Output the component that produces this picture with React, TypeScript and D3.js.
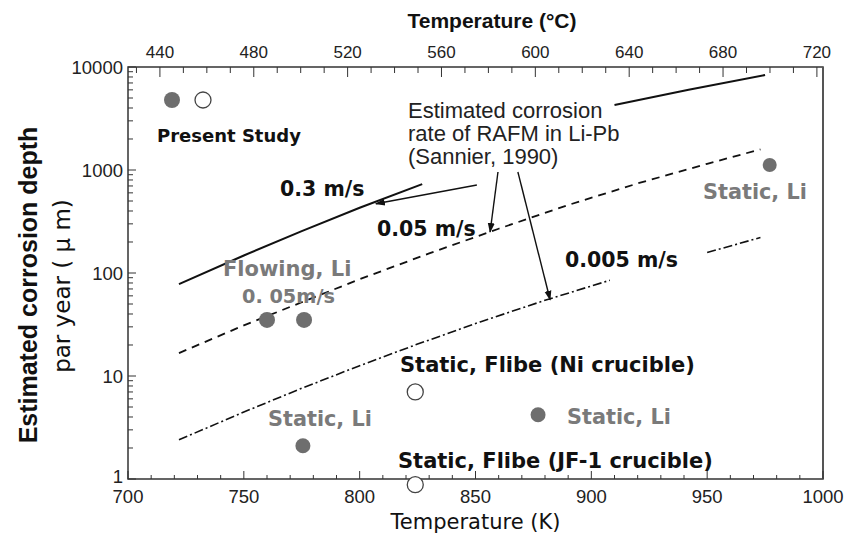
import React from "react";
import * as d3 from "d3";

// axes
const kelvinMajor = [700, 750, 800, 850, 900, 950, 1000];
const celsiusMajor = [440, 480, 520, 560, 600, 640, 680, 720];
const depthMajor = [1, 10, 100, 1000, 10000];

// Sannier (1990) estimated rates, [K, um/yr]; null = break in the line
const rate03 = [[722, 78], [750, 148], [775, 255], [800, 430], [827, 730], null, [910, 4280], [942, 6000], [975, 8360]];
const rate005 = [[722, 16.7], [750, 31], [775, 52], [800, 87], [830, 155], [860, 269], [890, 457], [920, 741], [950, 1148], [973, 1585]];
const rate0005 = [[722, 2.4], [750, 4.47], [775, 7.6], [800, 12.6], [825, 20.4], [852, 33.5], [880, 54.3], [908, 85], null, [950, 158], [973, 221]];

// measured points
const flowingLi = [[760, 35], [776, 35]];
const staticLi = [[775.5, 2.1], [877, 4.2], [977, 1120]];
const staticFlibe = [[824, 7.0], [824, 0.88]];

// arrows from the annotation text, [from, to]
const arrows = [
  [[850.6, 715], [807, 470]],
  [[859.7, 957], [856.3, 250]],
  [[868.3, 957], [882.2, 55]],
];

const W = 856;
const H = 536;
const L = 128, R = 823, T = 67, B = 479;

const x = d3.scaleLinear().domain([700, 1000]).range([L, R]);
const xC = d3.scaleLinear().domain([426.4, 722.6]).range([L, R]);
const y = d3.scaleLog().domain([1, 10000]).range([B, T]);

const line = d3
  .line<any>()
  .defined((d) => d !== null)
  .x((d) => x(d[0]))
  .y((d) => y(d[1]));

const sans = "'Liberation Sans', Arial, sans-serif";
const dv = "'DejaVu Sans', sans-serif";
const grey = "#7a7a7a";
const dot = "#6e6e6e";

export default function App() {
  const kMinor = d3.range(700, 1001, 10);
  const cMinor = d3.range(430, 721, 10);
  const yMinor: number[] = [];
  depthMajor.slice(0, -1).forEach((d) => {
    for (let i = 2; i <= 9; i++) yMinor.push(d * i);
  });

  return (
    <svg
      width={W}
      height={H}
      style={{ position: "fixed", left: 0, top: 0, background: "#fff" }}
    >
      <defs>
        <marker
          id="ah"
          viewBox="0 0 10 10"
          refX="9"
          refY="5"
          markerWidth="10"
          markerHeight="10"
          markerUnits="userSpaceOnUse"
          orient="auto"
        >
          <path d="M0,1.5L10,5L0,8.5z" fill="#111" />
        </marker>
      </defs>

      {/* frame */}
      <path
        d={`M${L},${T}H${R}V${B}H${L}Z`}
        fill="none"
        stroke="#333"
        strokeWidth={1.5}
      />
      <line x1={R} x2={R} y1={T} y2={B} stroke="#555" strokeWidth={2} />

      {/* bottom axis */}
      {kMinor.map((k) => (
        <line
          key={"kb" + k}
          x1={x(k)}
          x2={x(k)}
          y1={B}
          y2={B - (k % 50 === 0 ? 8 : 4)}
          stroke="#333"
        />
      ))}
      {kelvinMajor.map((k) => (
        <text
          key={"kl" + k}
          x={x(k)}
          y={503}
          textAnchor="middle"
          fontFamily={sans}
          fontSize={18.5}
          fill="#222"
        >
          {k}
        </text>
      ))}
      <text
        x={(L + R) / 2}
        y={529}
        textAnchor="middle"
        fontFamily={dv}
        fontSize={21}
        fill="#111"
      >
        Temperature (K)
      </text>

      {/* top axis */}
      {cMinor.map((c) => (
        <line
          key={"ct" + c}
          x1={xC(c)}
          x2={xC(c)}
          y1={T}
          y2={T + (c % 40 === 0 ? 10 : 6)}
          stroke="#333"
        />
      ))}
      {celsiusMajor.map((c) => (
        <text
          key={"cl" + c}
          x={xC(c)}
          y={58}
          textAnchor="middle"
          fontFamily={sans}
          fontSize={17}
          fill="#222"
        >
          {c}
        </text>
      ))}
      <text
        x={492}
        y={28}
        textAnchor="middle"
        fontFamily={sans}
        fontWeight="bold"
        fontSize={21}
        fill="#111"
      >
        Temperature (°C)
      </text>

      {/* left axis */}
      {yMinor.map((v) => (
        <line key={"ym" + v} x1={L} x2={L + 5} y1={y(v)} y2={y(v)} stroke="#333" />
      ))}
      {depthMajor.map((v) => (
        <g key={"yl" + v}>
          <line x1={L} x2={L + 8} y1={y(v)} y2={y(v)} stroke="#333" />
          <text
            x={123}
            y={y(v) + (v === 1 ? 4 : 6.5)}
            textAnchor="end"
            fontFamily={sans}
            fontSize={18.5}
            fill="#222"
          >
            {v}
          </text>
        </g>
      ))}
      <text
        transform="translate(37,285) rotate(-90)"
        textAnchor="middle"
        fontFamily={sans}
        fontWeight="bold"
        fontSize={25}
        fill="#111"
      >
        Estimated corrosion depth
      </text>
      <text
        transform="translate(70,286) rotate(-90)"
        textAnchor="middle"
        fontFamily={dv}
        fontSize={23}
        fill="#111"
      >
        par year ( μ m)
      </text>

      {/* Sannier curves */}
      <path d={line(rate03 as any) || ""} fill="none" stroke="#111" strokeWidth={2} />
      <path
        d={line(rate005 as any) || ""}
        fill="none"
        stroke="#111"
        strokeWidth={1.8}
        strokeDasharray="8,6"
      />
      <path
        d={line(rate0005 as any) || ""}
        fill="none"
        stroke="#111"
        strokeWidth={1.6}
        strokeDasharray="9,3,2,3"
      />

      {arrows.map(([a, b], i) => (
        <line
          key={"ar" + i}
          x1={x(a[0])}
          y1={y(a[1])}
          x2={x(b[0])}
          y2={y(b[1])}
          stroke="#111"
          strokeWidth={1.4}
          markerEnd="url(#ah)"
        />
      ))}

      {/* points */}
      {flowingLi.map((d, i) => (
        <circle key={"fl" + i} cx={x(d[0])} cy={y(d[1])} r={8} fill={dot} />
      ))}
      {staticLi.map((d, i) => (
        <circle key={"sl" + i} cx={x(d[0])} cy={y(d[1])} r={i === 2 ? 7 : 7.5} fill={dot} />
      ))}
      {staticFlibe.map((d, i) => (
        <circle
          key={"sf" + i}
          cx={x(d[0])}
          cy={y(d[1])}
          r={8}
          fill="#fff"
          stroke="#444"
          strokeWidth={1.3}
        />
      ))}

      {/* legend */}
      <circle cx={172} cy={100} r={8} fill={dot} />
      <circle cx={203} cy={100} r={8} fill="#fff" stroke="#444" strokeWidth={1.3} />
      <text x={157} y={142} fontFamily={dv} fontWeight="bold" fontSize={18} fill="#111">
        Present Study
      </text>

      {/* annotation */}
      <g fontFamily={sans} fontSize={22} fill="#222">
        <text x={408} y={118}>Estimated corrosion</text>
        <text x={408} y={141}>rate of RAFM in Li-Pb</text>
        <text x={408} y={164}>(Sannier, 1990)</text>
      </g>

      <g fontFamily={dv} fontWeight="bold" fontSize={20.5} fill="#111">
        <text x={280} y={196}>0.3 m/s</text>
        <text x={377} y={236}>0.05 m/s</text>
        <text x={565} y={267}>0.005 m/s</text>
        <text x={400} y={372} fontSize={21}>Static, Flibe (Ni crucible)</text>
        <text x={398} y={468} fontSize={21}>Static, Flibe (JF-1 crucible)</text>
      </g>

      <g fontFamily={dv} fontWeight="bold" fontSize={20.8} fill={grey}>
        <text x={223} y={276} fontSize={21}>Flowing, Li</text>
        <text x={242} y={303} fontSize={19.3}>0. 05m/s</text>
        <text x={268} y={426}>Static, Li</text>
        <text x={567} y={424}>Static, Li</text>
        <text x={703} y={199}>Static, Li</text>
      </g>
    </svg>
  );
}
